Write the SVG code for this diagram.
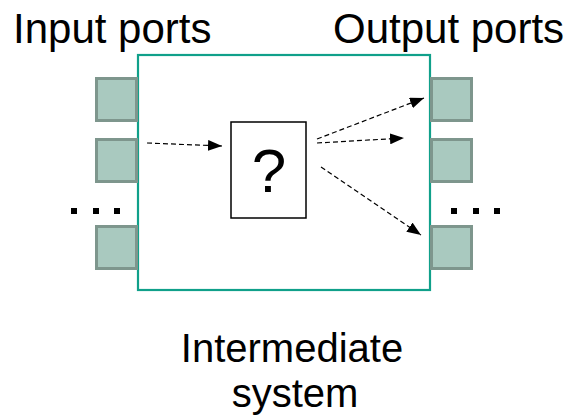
<svg xmlns="http://www.w3.org/2000/svg" width="572" height="417" viewBox="0 0 572 417">
  <style>
    .label { font-family: "Liberation Sans", Arial, sans-serif; font-size: 42px; fill: #000; }
    .caption { font-family: "Liberation Sans", Arial, sans-serif; font-size: 40px; fill: #000; }
    .port { fill: #a9c9bf; stroke: #7e968d; stroke-width: 3; }
    .sys { fill: #fff; stroke: #10a08a; stroke-width: 2.2; }
    .block { fill: #fff; stroke: #000; stroke-width: 1.5; }
    .flow { fill: none; stroke: #000; stroke-width: 1.2; stroke-dasharray: 5 3; marker-end: url(#head); }
    .dot { fill: #000; }
  </style>
  <defs>
    <marker id="head" viewBox="0 0 14 11" refX="14" refY="5.5" markerWidth="14" markerHeight="11" markerUnits="userSpaceOnUse" orient="auto">
      <path d="M0,0 L14,5.5 L0,11 Z" fill="#000"/>
    </marker>
  </defs>
  <rect width="572" height="417" fill="#fff"/>

  <text class="label" x="13" y="43">Input ports</text>
  <text class="label" x="333" y="43">Output ports</text>

  <g id="system">
    <rect class="sys" x="138" y="55" width="292" height="235"/>
  </g>

  <g id="input-ports">
    <rect class="port" x="96.5" y="78.5" width="40" height="42"/>
    <rect class="port" x="96.5" y="139.5" width="40" height="42"/>
    <rect class="port" x="96.5" y="226.5" width="40" height="42"/>
    <rect class="dot" x="71" y="208" width="6" height="6"/>
    <rect class="dot" x="93" y="208" width="6" height="6"/>
    <rect class="dot" x="114" y="208" width="6" height="6"/>
  </g>

  <g id="output-ports">
    <rect class="port" x="431.5" y="78.5" width="40" height="42"/>
    <rect class="port" x="431.5" y="139.5" width="40" height="42"/>
    <rect class="port" x="431.5" y="226.5" width="40" height="42"/>
    <rect class="dot" x="451" y="208" width="6" height="6"/>
    <rect class="dot" x="473" y="208" width="6" height="6"/>
    <rect class="dot" x="494" y="208" width="6" height="6"/>
  </g>

  <g id="unknown-block">
    <rect class="block" x="231" y="122" width="75" height="96"/>
    <text class="label" x="269" y="192" text-anchor="middle" style="font-size:62px">?</text>
  </g>

  <g id="connectors">
    <path class="flow" d="M147,143 L222,146"/>
    <path class="flow" d="M317,139 L424,98"/>
    <path class="flow" d="M317,143 L404,138"/>
    <path class="flow" d="M321,167 L421,235"/>
  </g>

  <text class="caption" x="292" y="362" text-anchor="middle">Intermediate</text>
  <text class="caption" x="295" y="407" text-anchor="middle">system</text>
</svg>
